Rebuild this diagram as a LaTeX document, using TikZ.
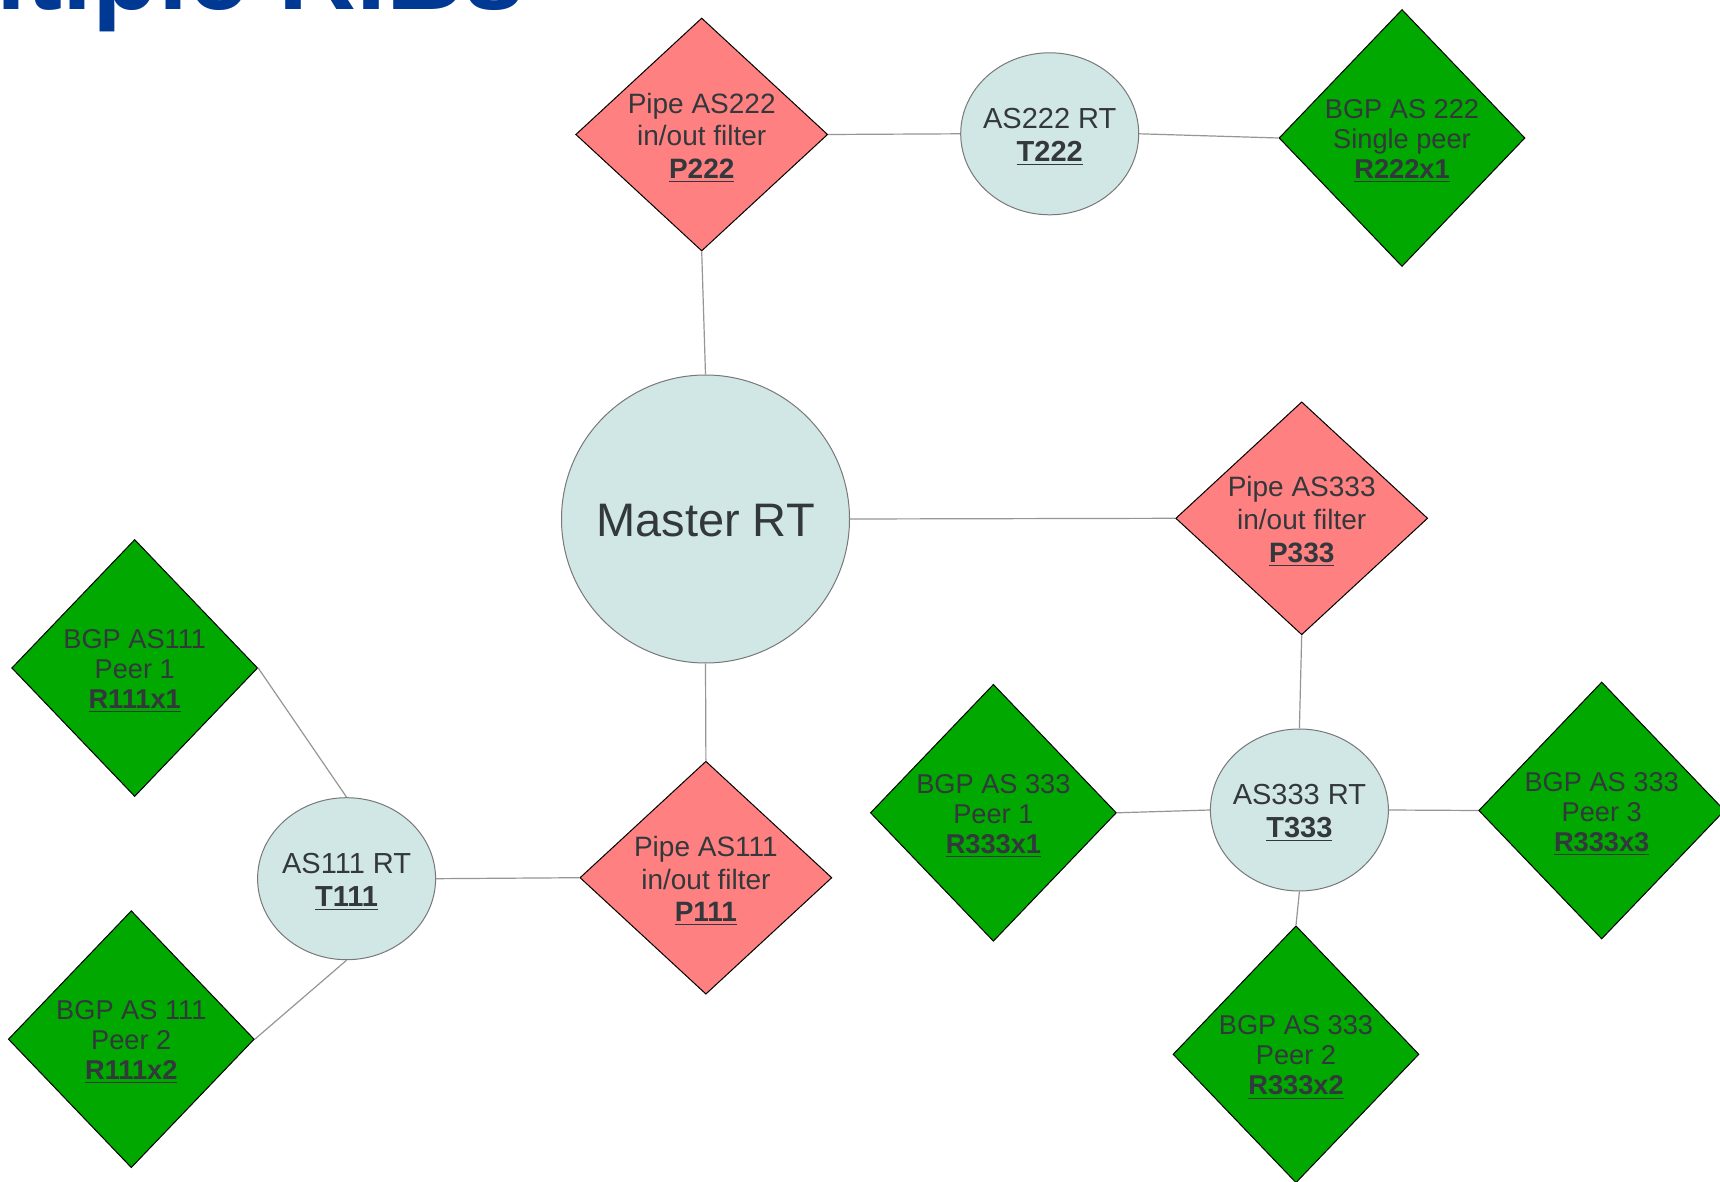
\documentclass[tikz,border=0pt]{standalone}
\usepackage{fontspec}
\setmainfont{Liberation Sans}
\usetikzlibrary{shapes.geometric}
\definecolor{pinkfill}{RGB}{255,128,128}
\definecolor{greenfill}{RGB}{0,168,0}
\definecolor{tealfill}{RGB}{208,231,229}
\definecolor{txtcol}{RGB}{51,56,60}
\definecolor{linecol}{RGB}{150,150,150}
\definecolor{titleblue}{RGB}{0,57,148}
\definecolor{rimcol}{RGB}{120,120,120}
\begin{document}
\begin{tikzpicture}[x=0.5pt,y=-0.5pt,
 pipebox/.style={diamond, draw=black, line width=0.5pt, fill=pinkfill, minimum width=126pt, minimum height=116.5pt, inner sep=0pt},
 peerbox/.style={diamond, draw=black, line width=0.5pt, fill=greenfill, minimum width=123pt, minimum height=128.5pt, inner sep=0pt},
 rtbox/.style={ellipse, draw=rimcol, line width=0.5pt, fill=tealfill, minimum width=89pt, minimum height=81pt, inner sep=0pt},
 masterbox/.style={circle, draw=rimcol, line width=0.5pt, fill=tealfill, minimum size=144pt, inner sep=0pt},
 pipetext/.style={align=center, text=txtcol, font=\fontsize{14}{16.3}\selectfont, inner sep=0pt, yshift=-1.6pt},
 peertext/.style={align=center, text=txtcol, font=\fontsize{13.6}{15}\selectfont, inner sep=0pt, yshift=-1.6pt},
 rttext/.style={align=center, text=txtcol, font=\fontsize{14.5}{16.5}\selectfont, inner sep=0pt, yshift=-1.4pt},
 link/.style={draw=linecol, line width=0.6pt}]
\clip (0,0) rectangle (1720,1182);
\useasboundingbox (0,0) rectangle (1720,1182);
\fill[white] (0,0) rectangle (1720,1182);

% title (cut off at top, as in the reference)
\node[anchor=base west, inner sep=0pt, text=titleblue, font=\fontsize{54}{60}\selectfont\bfseries] (title) at (-160,10) {Multiple RIBs};

% shapes
\node[pipebox] (P222) at (701.7,134.5) {};
\node[rtbox] (T222) at (1049.7,133.8) {};
\node[peerbox] (R222) at (1402,138) {};
\node[masterbox] (Master) at (705.5,519) {};
\node[pipebox] (P333) at (1301.7,518.3) {};
\node[pipebox] (P111) at (705.9,877.7) {};
\node[rtbox] (T111) at (346.6,878.7) {};
\node[peerbox] (R111a) at (134.7,668) {};
\node[peerbox] (R111b) at (131.3,1039.2) {};
\node[rtbox] (T333) at (1299.4,810) {};
\node[peerbox] (R333a) at (993.4,812.8) {};
\node[peerbox] (R333b) at (1296,1054.3) {};
\node[peerbox] (R333c) at (1601.7,810.5) {};

% connectors
\draw[link] (P222.south) -- (Master.north);
\draw[link] (P222.east) -- (T222.west);
\draw[link] (T222.east) -- (R222.west);
\draw[link] (Master.east) -- (P333.west);
\draw[link] (Master.south) -- (P111.north);
\draw[link] (P111.west) -- (T111.east);
\draw[link] (T111.north) -- (R111a.east);
\draw[link] (T111.south) -- (R111b.east);
\draw[link] (P333.south) -- (T333.north);
\draw[link] (T333.west) -- (R333a.east);
\draw[link] (T333.east) -- (R333c.west);
\draw[link] (T333.south) -- (R333b.north);

% texts
\node[pipetext] (P222t) at (P222) {Pipe AS222\\in/out filter\\\underline{\textbf{P222}}};
\node[pipetext] (P333t) at (P333) {Pipe AS333\\in/out filter\\\underline{\textbf{P333}}};
\node[pipetext] (P111t) at (P111) {Pipe AS111\\in/out filter\\\underline{\textbf{P111}}};
\node[rttext] (T222t) at (T222) {AS222 RT\\\underline{\textbf{T222}}};
\node[rttext] (T111t) at (T111) {AS111 RT\\\underline{\textbf{T111}}};
\node[rttext] (T333t) at (T333) {AS333 RT\\\underline{\textbf{T333}}};
\node[align=center, text=txtcol, font=\fontsize{23.5}{28}\selectfont, inner sep=0pt, yshift=-1pt] (Mastert) at (Master) {Master RT};
\node[peertext] (R222t) at (R222) {BGP AS 222\\Single peer\\\underline{\textbf{R222x1}}};
\node[peertext] (R111at) at (R111a) {BGP AS111\\Peer 1\\\underline{\textbf{R111x1}}};
\node[peertext] (R111bt) at (R111b) {BGP AS 111\\Peer 2\\\underline{\textbf{R111x2}}};
\node[peertext] (R333at) at (R333a) {BGP AS 333\\Peer 1\\\underline{\textbf{R333x1}}};
\node[peertext] (R333bt) at (R333b) {BGP AS 333\\Peer 2\\\underline{\textbf{R333x2}}};
\node[peertext] (R333ct) at (R333c) {BGP AS 333\\Peer 3\\\underline{\textbf{R333x3}}};
\end{tikzpicture}
\end{document}
